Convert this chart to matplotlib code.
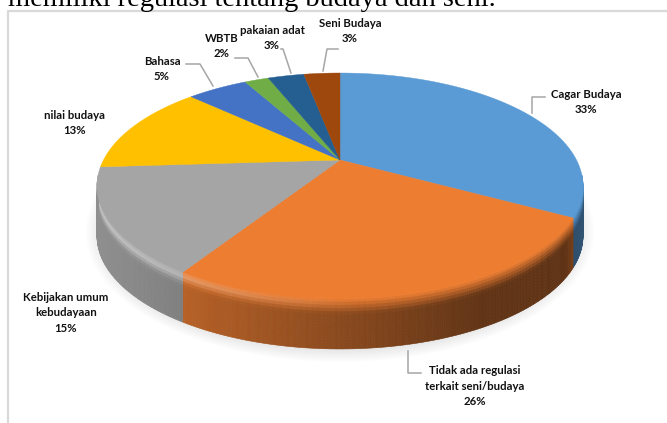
import numpy as np
import matplotlib
matplotlib.use('Agg')
import matplotlib.pyplot as plt
from matplotlib.patches import Polygon, Ellipse
from matplotlib.colors import to_rgb

# Data
categories = ['Cagar Budaya', 'Tidak ada regulasi\nterkait seni/budaya', 'Kebijakan umum\nkebudayaan',
              'nilai budaya', 'Bahasa', 'WBTB', 'pakaian adat', 'Seni Budaya']
values = [33, 26, 15, 13, 5, 2, 3, 3]
colors = ['#5B9BD5', '#ED7D31', '#A5A5A5', '#FFC000', '#4472C4', '#70AD47', '#255E91', '#9E480E']
heading = 'memiliki regulasi tentang budaya dan seni.'

# Label anchor (pixels) and leader line for every slice
label_pos = [(586, 102), (475, 386), (66, 313), (75, 123), (162, 69), (222, 46), (272, 38), (350, 31)]
leaders = [
    [(532, 113), (532, 97), (545, 97)],
    [(408, 351), (408, 373), (421, 373)],
    None,
    None,
    [(213, 86), (200, 64), (186, 64)],
    [(258, 77), (248, 58), (235, 58)],
    [(291, 73), (283, 49), (281, 49)],
    [(323, 71), (327, 49), (338, 49)],
]

cx, cy = 340, 160
R, H, k = 236.5, 107, 0.23
depth = 50


def project(theta):
    # theta clockwise from the top of the pie
    u, v = np.sin(theta), np.cos(theta)
    d = 1 + k * v
    return cx + R * u / d, cy - H * v / d


fig = plt.figure(figsize=(6.67, 4.23), dpi=100)
ax = fig.add_axes([0, 0, 1, 1])
ax.set_xlim(0, 667)
ax.set_ylim(423, 0)
ax.axis('off')

# Chart frame
ax.plot([8, 8, 667], [423, 11, 11], color='#d9d9d9', lw=1.6, zorder=1)

ax.text(8, -1, heading, family='Liberation Serif', fontsize=20.5, ha='left', va='center', color='black', zorder=6)

# Soft shadow under the pie
for i in range(14):
    ax.add_patch(Ellipse((340, 232), 2 * (254 - i * 2), 2 * (130 - i * 1.6),
                         color='#000000', alpha=0.012, lw=0, zorder=1.5))

edges = np.cumsum([0] + values) / sum(values) * 2 * np.pi

# Side of the pie with a bevel along its top edge
for j in range(len(values)):
    t = np.linspace(edges[j], edges[j + 1], max(int(values[j] * 8), 6))
    xs, ys = project(t)
    base = np.array(to_rgb(colors[j]))
    for i in range(len(t) - 1):
        if ys[i] < cy + 15 and ys[i + 1] < cy + 15:
            continue
        xm = (xs[i] + xs[i + 1]) / 2
        shade = np.interp(xm, [96, 190, 340, 480, 565, 572, 585], [0.87, 0.76, 0.58, 0.41, 0.40, 0.5, 0.55])
        side = base * shade
        light = max(0, 1 - (xm - 96) / 260)
        steps = 16
        for s in range(steps):
            f0, f1 = s / steps, (s + 1) / steps
            fm = (f0 + f1) / 2
            mix = min(fm / 0.3, 1)
            c = base * (1 - mix) + side * mix
            # highlight on the bevel, strongest at the left
            glow = 0.38 * light * max(0, 1 - abs(fm - 0.09) / 0.14)
            c = np.clip(c + glow * (1 - c), 0, 1)
            quad = [(xs[i], ys[i] + f0 * depth), (xs[i + 1], ys[i + 1] + f0 * depth),
                    (xs[i + 1], ys[i + 1] + f1 * depth), (xs[i], ys[i] + f1 * depth)]
            ax.add_patch(Polygon(quad, closed=True, fc=c, ec=c, lw=0.4, zorder=2))

# Top face
for j in range(len(values)):
    t = np.linspace(edges[j], edges[j + 1], 80)
    xs, ys = project(t)
    pts = np.column_stack([np.r_[cx, xs], np.r_[cy, ys]])
    ax.add_patch(Polygon(pts, closed=True, fc=colors[j], ec=colors[j], lw=0.3, zorder=3))

# Leader lines
for line in leaders:
    if line:
        ax.plot(*zip(*line), color='#a6a6a6', lw=1.1, zorder=4)

# Labels
for name, val, (lx, ly) in zip(categories, values, label_pos):
    ax.text(lx, ly, f'{name}\n{val}%', family='Lato', fontweight='bold', fontsize=8.2,
            ha='center', va='center', linespacing=1.5, color='#111111', zorder=5)

fig.savefig('out.png', dpi=100)
